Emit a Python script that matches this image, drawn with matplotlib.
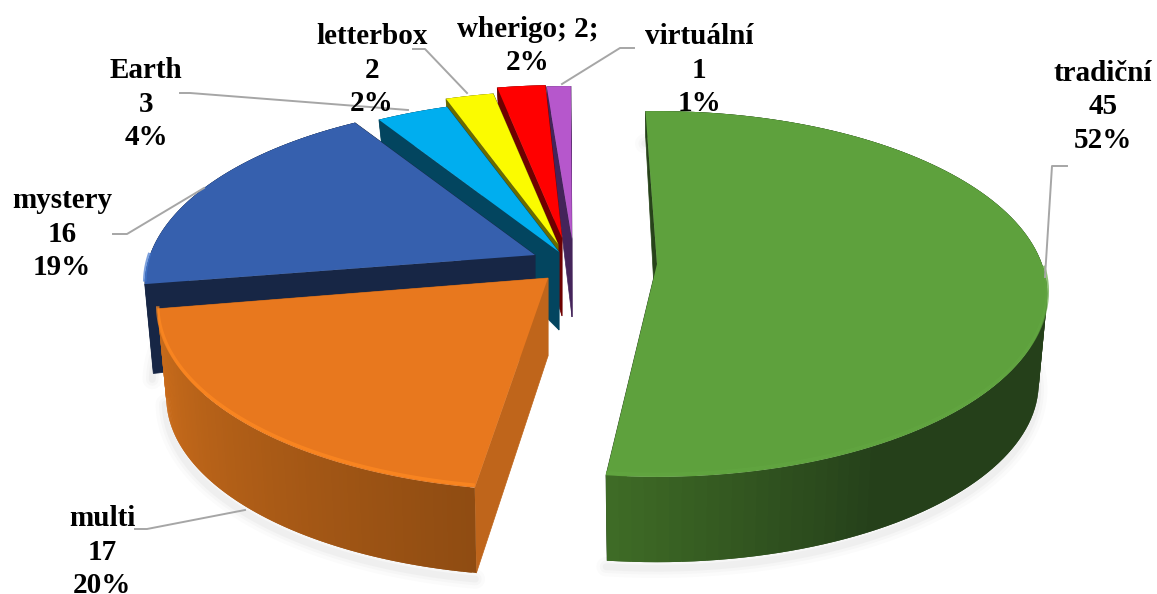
import numpy as np
import matplotlib
matplotlib.use('Agg')
import matplotlib.pyplot as plt
from matplotlib.colors import to_rgb

# Data
names = ['tradiční', 'multi', 'mystery', 'Earth', 'letterbox', 'wherigo', 'virtuální']
values = [45, 17, 16, 3, 2, 2, 1]
percents = [52, 20, 19, 4, 2, 2, 1]

# Colours: top face, wall near, wall far
top_colors = ['#5ea13d', '#e8781e', '#3660ae', '#00aeef', '#fbfb00', '#ff0000', '#b657cc']
rim_light = ['#3f6c26', '#8f4c12', '#172645', '#03455f', '#6a6a00', '#6e0000', '#44245a']
rim_dark = ['#25401a', '#cf6f1c', '#172645', '#03455f', '#6a6a00', '#6e0000', '#44245a']
side_colors = ['#27431a', '#bf651b', '#172645', '#03455f', '#6a6a00', '#6e0000', '#44245a']
bevel_colors = ['#62a641', '#ff8a22', '#4478cf', '#00aeef', '#fbfb00', '#ff0000', '#b657cc']

# Exploded wedge tips (pixels) and how far each wedge is turned (degrees)
tips = [(657, 264), (548, 278), (535, 255), (559, 252), (558, 244), (562, 238), (572, 239)]
turn = [-0.3, 2.5, 3, 3, 3, 3, 1.5]

# Leader lines and label centres, in pixels
leaders = [
    [(1067, 166), (1052, 166), (1045, 277)],
    [(135, 529), (147, 529), (245, 510)],
    [(113, 234), (127, 234), (204, 188)],
    [(180, 93), (190, 93), (408, 110)],
    [(413, 49), (425, 49), (467, 93)],
    [(634, 48), (620, 48), (562, 84)],
]
label_pos = [(1103, 107), (102, 552), (62, 234), (146, 104), (372, 70), (528, 46), (699, 70)]

rx, ry, k = 385, 178, 0.164
start = -1.7
tip_depth = 78
shrink = 0.978


def top_xy(deg, tip):
    a = np.radians(deg)
    s = 1 / (1 + k * np.cos(a))
    return tip[0] + rx * np.sin(a) * s, tip[1] - ry * np.cos(a) * s


def bottom_xy(deg, tip):
    x, y = top_xy(deg, tip)
    v = np.cos(np.radians(deg))
    depth = 90 - 67 * np.clip(v, 0, 1)
    return tip[0] + (x - tip[0]) * shrink, tip[1] + (y - tip[1]) * shrink + depth


def mix(c1, c2, t):
    c1, c2 = np.array(to_rgb(c1)), np.array(to_rgb(c2))
    return tuple(c1 + (c2 - c1) * t)


fig = plt.figure(figsize=(11.57, 5.94), dpi=100)
ax = fig.add_axes([0, 0, 1, 1])
ax.set_xlim(0, 1157)
ax.set_ylim(594, 0)
ax.axis('off')

# work out the angles from the values
edges = start + np.cumsum([0] + values) / sum(values) * 360

# soft shadow under the wedges
for i in [0, 1, 2]:
    arc = np.linspace(edges[i] + turn[i], edges[i + 1] + turn[i], 80)
    bx, by = bottom_xy(arc, tips[i])
    for w, alpha in [(14, 0.03), (9, 0.04), (5, 0.05)]:
        ax.plot(bx - 1, by + 6, color='#808080', lw=w, alpha=alpha, solid_capstyle='round')

# back to front, the orange one goes last
for i in [6, 5, 4, 3, 2, 0, 1]:
    tip = tips[i]
    a0, a1 = edges[i] + turn[i], edges[i + 1] + turn[i]
    arc = np.linspace(a0, a1, 120)
    tx, ty = top_xy(arc, tip)
    bx, by = bottom_xy(arc, tip)

    # flat sides
    for a in [a0, a1]:
        x0, y0 = top_xy(a, tip)
        x1, y1 = bottom_xy(a, tip)
        ax.fill([tip[0], x0, x1, tip[0]], [tip[1], y0, y1, tip[1] + tip_depth],
                color=side_colors[i], lw=0.5, zorder=3)

    # outer wall in small strips for the gradient, each one overlaps the next
    for j in range(len(arc) - 1):
        if i == 0:
            c = mix(rim_dark[i], rim_light[i], np.clip((arc[j] - 150) / 36, 0, 1))
        else:
            c = mix(rim_light[i], rim_dark[i], j / (len(arc) - 1))
        m = min(j + 2, len(arc) - 1)
        ax.fill([tx[j], tx[m], bx[m], bx[j]], [ty[j], ty[m], by[m], by[j]],
                color=c, lw=0, zorder=3)

    # top face and lighter rim
    ax.fill(np.r_[tip[0], tx], np.r_[tip[1], ty], color=top_colors[i], lw=0, zorder=3)
    front = np.cos(np.radians(arc)) < 0.0
    if front.any():
        ax.plot(tx[front], ty[front] - 2.5, color=bevel_colors[i], lw=2.5, zorder=3,
                alpha=0.7, solid_capstyle='butt')

for pts in leaders:
    xs, ys = zip(*pts)
    ax.plot(xs, ys, color='#a6a6a6', lw=1.4, zorder=4)

for i, name in enumerate(names):
    if name == 'wherigo':
        label = f'{name}; {values[i]};\n{percents[i]}%'
    else:
        label = f'{name}\n{values[i]}\n{percents[i]}%'
    ax.text(label_pos[i][0], label_pos[i][1], label, ha='center', va='center',
            family='Liberation Serif', weight='bold', fontsize=21, linespacing=1.3,
            color='black', zorder=5)

fig.savefig('out.png', dpi=100)
